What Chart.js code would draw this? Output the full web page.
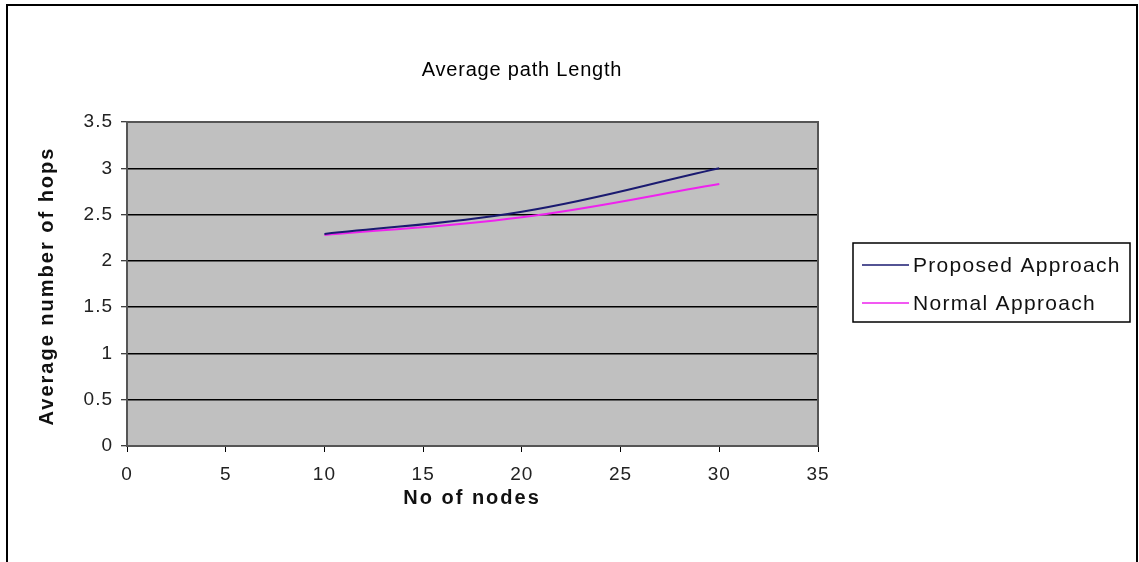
<!DOCTYPE html>
<html>
<head>
<meta charset="utf-8">
<script src="https://cdn.jsdelivr.net/npm/chart.js@4"></script>
<style>
  html, body { margin: 0; padding: 0; background: #fff; }
  #wrap { width: 1139px; height: 562px; position: relative; }
</style>
</head>
<body>
<div id="wrap"><canvas id="chart1"></canvas></div>
<script>
const nodes = [10, 20, 30]
const proposedHops = [2.29, 2.53, 3.0]
const normalHops = [2.28, 2.47, 2.83]
const xTicks = [0, 5, 10, 15, 20, 25, 30, 35]
const yTicks = [0, 0.5, 1, 1.5, 2, 2.5, 3, 3.5]
const chartTitle = 'Average path Length'
const xTitle = 'No of nodes'
const yTitle = 'Average number of hops'

const FONT = '"Liberation Sans", Arial, sans-serif'

// frame, grey plot area, titles and boxed legend like the old excel chart
const excelLook = {
  id: 'excelLook',
  beforeDraw(chart) {
    const { ctx, chartArea: a } = chart
    ctx.save()
    ctx.fillStyle = '#fff'
    ctx.fillRect(0, 0, chart.width, chart.height)
    ctx.strokeStyle = '#000'
    ctx.lineWidth = 2
    ctx.strokeRect(7, 5, 1130, 600)
    ctx.fillStyle = '#c0c0c0'
    ctx.fillRect(a.left, a.top, a.right - a.left, a.bottom - a.top)
    ctx.restore()
    // wide excel-ish spacing for the tick labels
    ctx.letterSpacing = '1px'
  },
  afterDraw(chart) {
    const { ctx, chartArea: a } = chart
    ctx.save()
    ctx.strokeStyle = '#555'
    ctx.lineWidth = 2
    ctx.strokeRect(a.left, a.top, a.right - a.left, a.bottom - a.top)

    ctx.fillStyle = '#000'
    ctx.textAlign = 'center'
    ctx.textBaseline = 'middle'
    ctx.letterSpacing = '0.8px'
    ctx.font = '20px ' + FONT
    ctx.fillText(chartTitle, 522, 70)

    ctx.letterSpacing = '2px'
    ctx.font = 'bold 20px ' + FONT
    ctx.fillStyle = '#111'
    ctx.fillText(xTitle, 472, 498)
    ctx.save()
    ctx.translate(47, 286)
    ctx.rotate(-Math.PI / 2)
    ctx.fillText(yTitle, 0, 0)
    ctx.restore()

    // legend
    ctx.fillStyle = '#fff'
    ctx.fillRect(853, 243, 277, 79)
    ctx.strokeStyle = '#000'
    ctx.lineWidth = 1.5
    ctx.strokeRect(853, 243, 277, 79)
    ctx.font = '21px ' + FONT
    ctx.letterSpacing = '1.3px'
    ctx.textAlign = 'left'
    chart.data.datasets.forEach((ds, i) => {
      const y = 265 + i * 38
      ctx.strokeStyle = ds.borderColor
      ctx.lineWidth = 1.5
      ctx.beginPath()
      ctx.moveTo(862, y)
      ctx.lineTo(909, y)
      ctx.stroke()
      ctx.fillStyle = '#111'
      ctx.fillText(ds.label, 913, y + 1)
    })
    ctx.restore()
    ctx.letterSpacing = '0px'
  }
}

new Chart('chart1', {
  type: 'line',
  data: {
    datasets: [{
      label: 'Proposed Approach',
      data: nodes.map((n, i) => ({ x: n, y: proposedHops[i] })),
      borderColor: '#1a1a70',
      borderWidth: 2,
      pointRadius: 0,
      tension: 0.4,
      fill: false
    }, {
      label: 'Normal Approach',
      data: nodes.map((n, i) => ({ x: n, y: normalHops[i] })),
      borderColor: '#ee22ee',
      borderWidth: 2,
      pointRadius: 0,
      tension: 0.4,
      fill: false
    }]
  },
  options: {
    responsive: true,
    maintainAspectRatio: false,
    animation: false,
    layout: { padding: { left: 0, right: 321, top: 122, bottom: 0 } },
    plugins: {
      legend: { display: false },
      title: { display: false },
      tooltip: { enabled: false }
    },
    scales: {
      x: {
        type: 'linear',
        min: 0,
        max: 35,
        afterBuildTicks: scale => { scale.ticks = xTicks.map(v => ({ value: v })) },
        afterFit: scale => { scale.height = 116 },
        grid: { drawOnChartArea: false, color: '#000', tickLength: 6, tickWidth: 1 },
        border: { display: false },
        ticks: { color: '#222', padding: 11, maxRotation: 0, font: { family: FONT, size: 19 }, callback: v => String(v) }
      },
      y: {
        min: 0,
        max: 3.5,
        afterBuildTicks: scale => { scale.ticks = yTicks.map(v => ({ value: v })) },
        afterFit: scale => { scale.width = 127 },
        grid: { color: '#000', lineWidth: 1.5, tickLength: 6, tickWidth: 1 },
        border: { display: false },
        ticks: { color: '#222', padding: 8, font: { family: FONT, size: 19 }, callback: v => String(v) }
      }
    }
  },
  plugins: [excelLook]
})
</script>
</body>
</html>
